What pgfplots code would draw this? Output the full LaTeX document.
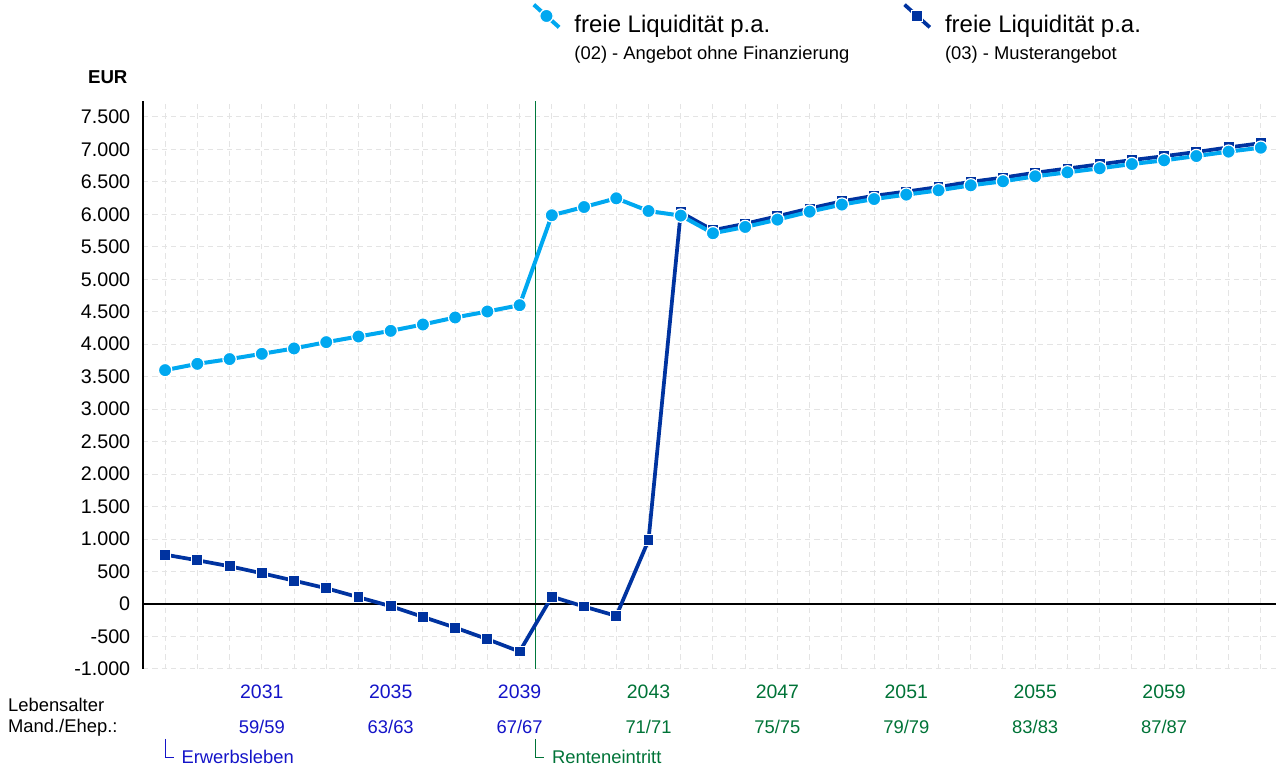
\documentclass[border=0pt]{standalone}
\usepackage{pgfplots}
\pgfplotsset{compat=1.18}
\usepackage{pgfplotstable}
\usepackage{fontspec}
\setmainfont{Liberation Sans}

\definecolor{hellblau}{RGB}{0,168,240}
\definecolor{dunkelblau}{RGB}{0,51,160}
\definecolor{tblau}{RGB}{20,20,200}
\definecolor{tgruen}{RGB}{0,115,55}
\definecolor{rgruen}{RGB}{0,120,60}
\definecolor{gitter}{RGB}{228,228,228}

% freie Liquiditaet p.a., (02) Angebot ohne Finanzierung
\pgfplotstableread{
jahr wert
2028 3600
2029 3697
2030 3770
2031 3851
2032 3934
2033 4031
2034 4118
2035 4205
2036 4303
2037 4411
2038 4503
2039 4600
2040 5985
2041 6112
2042 6246
2043 6051
2044 5980
2045 5708
2046 5805
2047 5918
2048 6041
2049 6150
2050 6235
2051 6303
2052 6369
2053 6446
2054 6508
2055 6585
2056 6646
2057 6708
2058 6774
2059 6831
2060 6897
2061 6965
2062 7026
}\ohnefin

% (03) Musterangebot
\pgfplotstableread{
jahr wert
2028 758
2029 672
2030 580
2031 472
2032 358
2033 241
2034 103
2035 -35
2036 -200
2037 -365
2038 -543
2039 -734
2040 112
2041 -41
2042 -185
2043 980
2044 6030
2045 5755
2046 5855
2047 5970
2048 6090
2049 6200
2050 6285
2051 6350
2052 6420
2053 6500
2054 6565
2055 6640
2056 6705
2057 6770
2058 6835
2059 6895
2060 6960
2061 7030
2062 7095
}\muster

\newcommand{\jahrlab}[3]{\begin{tabular}{@{}c@{}}\textcolor{#1}{#2}\\[9pt]{\fontsize{13.8}{16}\selectfont\textcolor{#1}{#3}}\end{tabular}}
\newcommand{\legtext}[1]{\hspace*{8pt}\begin{tabular}[t]{@{}l@{}}\fontsize{18}{20}\selectfont freie Liquidität p.a.\\[6.5pt]\fontsize{13.8}{16}\selectfont #1\end{tabular}}

\begin{document}
\begin{tikzpicture}
\pgfplotsset{
  hell/.style={color=hellblau, line width=3pt, mark=*, mark size=5pt,
    mark options={fill=hellblau, draw=white, line width=0.9pt}},
  dunkel/.style={color=dunkelblau, line width=2.8pt, mark=square*, mark size=4.1pt,
    mark options={fill=dunkelblau, draw=white, line width=0.8pt}},
}
\begin{axis}[
  scale only axis, width=850.5pt, height=426pt,
  xmin=2027.31, xmax=2062.47, ymin=-1000, ymax=7740,
  axis y line*=left, axis x line*=bottom,
  axis line style={-},
  x axis line style={draw=none},
  y axis line style={line width=1.3pt, black},
  major tick length=0pt, minor tick length=0pt,
  xtick={2031,2035,...,2059}, minor xtick={2028,...,2062},
  ytick={-1000,-500,...,7500},
  grid=both,
  major grid style={gitter, line width=0.7pt, dash pattern=on 4pt off 3pt},
  minor grid style={gitter, line width=0.7pt, dash pattern=on 4pt off 3pt},
  /pgf/number format/1000 sep={.},
  /pgf/number format/assume math mode=true,
  yticklabel style={font=\fontsize{14.8}{17}\selectfont, xshift=-6pt},
  xticklabel style={font=\fontsize{14.6}{17}\selectfont, yshift=-7pt},
  xticklabels={
    \jahrlab{tblau}{2031}{59/59}, \jahrlab{tblau}{2035}{63/63}, \jahrlab{tblau}{2039}{67/67},
    \jahrlab{tgruen}{2043}{71/71}, \jahrlab{tgruen}{2047}{75/75}, \jahrlab{tgruen}{2051}{79/79},
    \jahrlab{tgruen}{2055}{83/83}, \jahrlab{tgruen}{2059}{87/87}},
  clip=false,
  legend columns=2,
  legend cell align=left,
  legend style={at={(0.3395,1.179)}, anchor=north west, draw=none, fill=none},
  legend image code/.code={
    \draw[mark repeat=2, mark phase=2, #1]
      plot coordinates {(0pt,15pt) (9.5pt,6.5pt) (19pt,-2pt)};},
]
\addlegendimage{hell}
\addlegendentry{\legtext{(02) - Angebot ohne Finanzierung}\hspace*{38pt}}
\addlegendimage{dunkel}
\addlegendentry{\legtext{(03) - Musterangebot}}

\draw[rgruen, line width=1.1pt] (axis cs:2039.5,-1000) -- (axis cs:2039.5,7740);
\draw[black, line width=1.6pt] (axis cs:2027.31,0) -- (axis cs:2062.47,0);

\addplot[dunkel, forget plot] table[x=jahr, y=wert] {\muster};
\addplot[hell, forget plot] table[x=jahr, y=wert] {\ohnefin};

\node[font=\bfseries\fontsize{14}{16}\selectfont] at (axis cs:2026.22,8108) {EUR};
\node[anchor=west, inner sep=0pt, font=\fontsize{13.8}{16}\selectfont] at (axis cs:2023.12,-1555) {Lebensalter};
\node[anchor=west, inner sep=0pt, font=\fontsize{13.8}{16}\selectfont] at (axis cs:2023.12,-1910) {Mand./Ehep.:};

\draw[tblau, line width=0.6pt] (axis cs:2028,-2077) -- (axis cs:2028,-2369) -- (axis cs:2028.27,-2369);
\node[anchor=west, inner sep=0pt, text=tblau, font=\fontsize{13.8}{16}\selectfont] at (axis cs:2028.5,-2360) {Erwerbsleben};
\draw[tgruen, line width=0.6pt] (axis cs:2039.5,-2077) -- (axis cs:2039.5,-2369) -- (axis cs:2039.77,-2369);
\node[anchor=west, inner sep=0pt, text=tgruen, font=\fontsize{13.8}{16}\selectfont] at (axis cs:2040.0,-2360) {Renteneintritt};

\path (axis cs:2022.876,9277) rectangle (axis cs:2062.47,-2523);
\end{axis}
\end{tikzpicture}
\end{document}
